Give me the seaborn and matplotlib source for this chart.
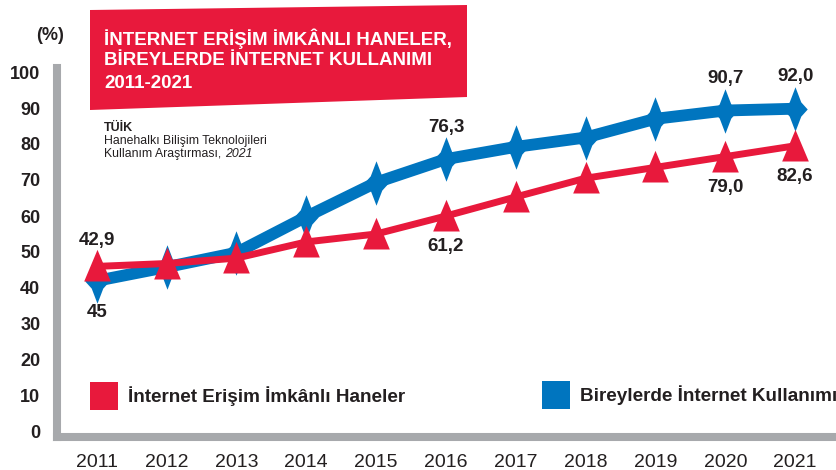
import numpy as np
import seaborn as sns
import matplotlib.pyplot as plt
from matplotlib.path import Path
from matplotlib.patches import Polygon, Rectangle

# values
years = list(range(2011, 2022))
haneler = [46.0, 46.8, 48.3, 52.8, 55.0, 60.0, 65.3, 70.5, 73.5, 76.5, 79.5]
bireyler = [42.0, 45.8, 49.8, 59.8, 69.3, 75.8, 79.2, 81.8, 87.0, 89.3, 89.8]

# printed value labels
hane_lbl_years = [2011, 2016, 2020, 2021]
hane_lbl_text = ["42,9", "61,2", "79,0", "82,6"]
birey_lbl_years = [2011, 2016, 2020, 2021]
birey_lbl_text = ["45", "76,3", "90,7", "92,0"]

title_lines = ["İNTERNET ERİŞİM İMKÂNLI HANELER,",
               "BİREYLERDE İNTERNET KULLANIMI",
               "2011-2021"]
legend_names = ["İnternet Erişim İmkânlı Haneler", "Bireylerde İnternet Kullanımı"]

RED = "#E8193C"
BLUE = "#0075BF"
GRAY = "#A7A9AC"
DARK = "#231F20"

sns.set_style("white")
plt.rcParams['font.family'] = ['Liberation Sans', 'DejaVu Sans']

W, H = 837, 470
fig = plt.figure(figsize=(W / 100, H / 100), dpi=100)


def px(x, y):
    # pixel position (top-left origin) -> figure fraction
    return x / W, (H - y) / H


ax = fig.add_axes([57 / W, 32.6 / H, 780 / W, 369 / H])

# markers: tall pointed diamond and a triangle
diamond = Path([(0, 1), (0.26, 0.32), (0.55, 0), (0.26, -0.32), (0, -1),
                (-0.26, -0.32), (-0.55, 0), (-0.26, 0.32), (0, 1)],
               [Path.MOVETO] + [Path.LINETO] * 7 + [Path.CLOSEPOLY])
triangle = Path([(0, 1), (0.8, -0.9), (-0.8, -0.9), (0, 1)],
                [Path.MOVETO, Path.LINETO, Path.LINETO, Path.CLOSEPOLY])

sns.lineplot(x=years, y=bireyler, ax=ax, color=BLUE, lw=8.5, marker=diamond,
             markersize=32, mew=0, zorder=3)
sns.lineplot(x=years, y=haneler, ax=ax, color=RED, lw=5, marker=triangle,
             markersize=24, mew=0, zorder=4)

ax.set_xlim(2010.43, 2021.6)
ax.set_ylim(-1.5, 101)

lbl_kw = dict(textcoords='offset points', ha='center', va='center',
              fontsize=13.5, fontweight='bold', color=DARK)
for yr, txt in zip(hane_lbl_years, hane_lbl_text):
    v = haneler[years.index(yr)]
    dy = 19 if yr == 2011 else -22
    ax.annotate(txt, (yr, v), xytext=(0, dy), **lbl_kw)
for yr, txt in zip(birey_lbl_years, birey_lbl_text):
    v = bireyler[years.index(yr)]
    dy = -23 if yr == 2011 else 23
    ax.annotate(txt, (yr, v), xytext=(0, dy), **lbl_kw)

# axes styling
sns.despine(ax=ax)
for s in ['left', 'bottom']:
    ax.spines[s].set_color(GRAY)
    ax.spines[s].set_linewidth(5.8)
ax.set_xticks(years)
ax.set_xticks(np.arange(2011.5, 2022, 1), minor=True)
ax.tick_params(axis='x', which='major', length=0, pad=12, labelsize=14,
               labelcolor=DARK)
ax.tick_params(axis='x', which='minor', length=7, width=2.5, color=GRAY,
               direction='out')
ax.set_yticks(range(0, 101, 10))
ax.tick_params(axis='y', length=6, width=2.5, color=GRAY, pad=6,
               labelsize=13, labelcolor=DARK)
for t in ax.get_yticklabels():
    t.set_fontweight('bold')

fig.text(*px(50, 36), "(%)", ha='center', va='center', fontsize=13,
         fontweight='bold', color=DARK)

# title box
box = Polygon([px(90, 10), px(467, 5), px(467, 97), px(90, 110)],
              closed=True, transform=fig.transFigure, facecolor=RED,
              edgecolor='none', zorder=5)
fig.add_artist(box)
for txt, yb in zip(title_lines, [45, 65, 88]):
    fig.text(*px(104, yb), txt, ha='left', va='baseline', fontsize=13.5,
             fontweight='bold', color='white', zorder=6)

# source
fig.text(*px(104, 131), "TÜİK", ha='left', va='baseline', fontsize=9,
         fontweight='bold', color=DARK)
fig.text(*px(104, 144), "Hanehalkı Bilişim Teknolojileri", ha='left',
         va='baseline', fontsize=8.8, color=DARK)
t = fig.text(*px(104, 157), "Kullanım Araştırması, ", ha='left',
             va='baseline', fontsize=8.8, color=DARK)
fig.canvas.draw()
bb = t.get_window_extent()
fig.text(bb.x1 / W, (H - 157) / H, "2021", ha='left', va='baseline',
         fontsize=8.8, style='italic', color=DARK)

# legend
for (x0, y0), col, name in zip([(90, 382), (542, 381)], [RED, BLUE], legend_names):
    fig.add_artist(Rectangle(px(x0, y0 + 28), 28 / W, 28 / H,
                             transform=fig.transFigure, facecolor=col,
                             edgecolor='none'))
    fig.text(*px(x0 + 38, y0 + 14), name, ha='left', va='center',
             fontsize=13.6, fontweight='bold', color=DARK)

fig.savefig('out.png', dpi=100)
